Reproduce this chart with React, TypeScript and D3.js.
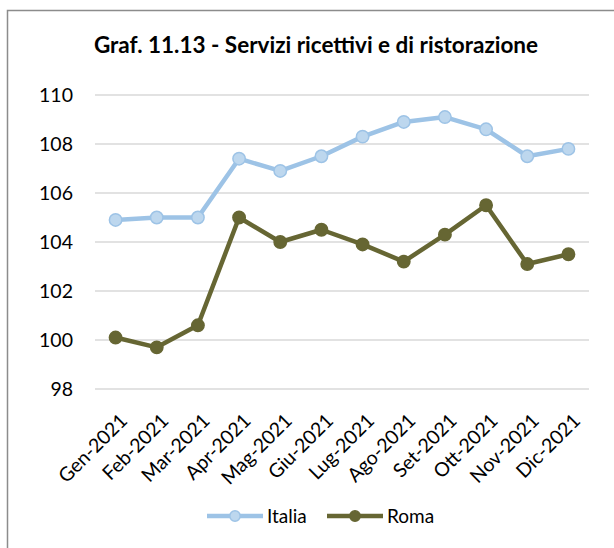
import React, { useEffect } from "react";
import * as d3 from "d3";

const months = ["Gen-2021","Feb-2021","Mar-2021","Apr-2021","Mag-2021","Giu-2021","Lug-2021","Ago-2021","Set-2021","Ott-2021","Nov-2021","Dic-2021"];
const italia = [104.9,105.0,105.0,107.4,106.9,107.5,108.3,108.9,109.1,108.6,107.5,107.8];
const roma = [100.1,99.7,100.6,105.0,104.0,104.5,103.9,103.2,104.3,105.5,103.1,103.5];
const yTicks = [98,100,102,104,106,108,110];
const title = "Graf. 11.13 - Servizi ricettivi e di ristorazione";

const series = [
  { name: "Italia", values: italia, line: "#9DC3E6", fill: "#BDD7EE" },
  { name: "Roma", values: roma, line: "#666633", fill: "#666633" },
];

const FONT = "Lato, 'Open Sans', sans-serif";

export default function App() {
  useEffect(() => {
    document.body.style.margin = "0";
    document.body.style.overflow = "hidden";
  }, []);
  const W = 614, H = 548;
  const x = d3.scaleBand<string>().domain(months).range([95, 589]);
  const y = d3.scaleLinear().domain([98, 110]).range([389, 95]);
  const cxOf = (i: number) => x(months[i])! + x.bandwidth() / 2;
  const line = d3.line<number>().x((_, i) => cxOf(i)).y(d => y(d));

  return (
    <svg width={W} height={H} style={{ position: "absolute", left: 0, top: 0, display: "block" }} fontFamily={FONT}>
      <rect x={0} y={0} width={W} height={H} fill="#fff" />
      <path d={`M7.5,${H} V10.5 H${W}`} fill="none" stroke="#8c8c8c" strokeWidth={1.5} />
      <text x={316} y={53} textAnchor="middle" fontWeight="bold" fontSize={22.5} fill="#000">{title}</text>
      {yTicks.map(t => (
        <g key={t}>
          <line x1={95} x2={589} y1={y(t)} y2={y(t)} stroke="#d9d9d9" strokeWidth={1.5} />
          <text x={73} y={y(t)} dy="0.36em" textAnchor="end" fontSize={19.5} fill="#000">{t}</text>
        </g>
      ))}
      {months.map((m, i) => (
        <text key={m} transform={`translate(${cxOf(i) + 13},${422}) rotate(-45)`} textAnchor="end" fontSize={19.5} fill="#000">{m}</text>
      ))}
      {series.map(s => (
        <g key={s.name}>
          <path d={line(s.values)!} fill="none" stroke={s.line} strokeWidth={4.5} strokeLinejoin="round" />
          {s.values.map((v, i) => (
            <circle key={i} cx={cxOf(i)} cy={y(v)} r={6.2} fill={s.fill} stroke={s.line} strokeWidth={1.5} />
          ))}
        </g>
      ))}
      {series.map((s, i) => {
        const x0 = i === 0 ? 207 : 327;
        return (
          <g key={s.name}>
            <line x1={x0} x2={x0 + 56} y1={516} y2={516} stroke={s.line} strokeWidth={4.5} />
            <circle cx={x0 + 28} cy={516} r={5.2} fill={s.fill} stroke={s.line} strokeWidth={1.5} />
            <text x={x0 + 60} y={516} dy="0.36em" fontSize={19} fill="#000">{s.name}</text>
          </g>
        );
      })}
    </svg>
  );
}
